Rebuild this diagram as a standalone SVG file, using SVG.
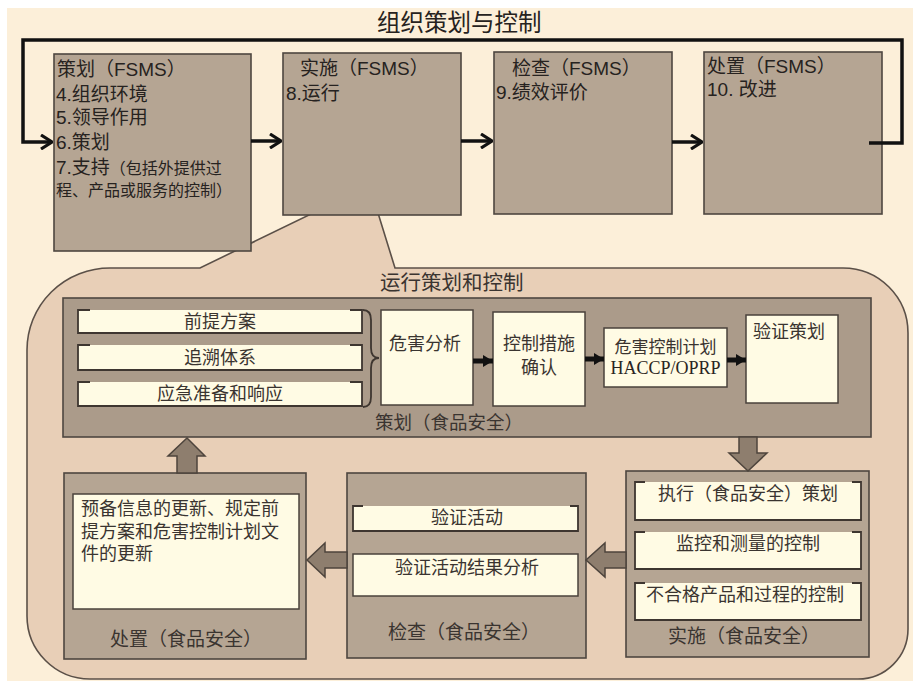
<svg xmlns="http://www.w3.org/2000/svg" width="913" height="681" viewBox="0 0 913 681">
<defs>
<style>
.t{font-family:"Liberation Sans","Noto Sans CJK SC",sans-serif;fill:#262220}
.c{font-family:"Noto Sans CJK SC","Liberation Sans",sans-serif;fill:#3a3430}
.cl{font-family:"Liberation Sans","Noto Sans CJK SC",sans-serif;fill:#3a3430}
.fs{fill:#b5a593;stroke:#4e4640;stroke-width:1.6}
.grp{fill:#ab9b8a;stroke:#4e4640;stroke-width:1.6}
.cr{fill:#fffbe4}
.crs{fill:#fffbe4;stroke:#4a423b;stroke-width:1.5}
.br{fill:none;stroke:#3e3630;stroke-width:1.8}
.blk{fill:#8e7e6e;stroke:#4d443c;stroke-width:1.5}
.ln{fill:none;stroke:#111;stroke-width:3.5}
.thk{fill:none;stroke:#111;stroke-width:5}
</style>
<marker id="chev" viewBox="0 0 13 16" refX="12" refY="8" markerWidth="13" markerHeight="16" markerUnits="userSpaceOnUse" orient="auto">
<path d="M1,1 L12,8 L1,15" fill="none" stroke="#111" stroke-width="3.2"/>
</marker>
<marker id="tri" viewBox="0 0 10 12" refX="10" refY="6" markerWidth="10" markerHeight="12" markerUnits="userSpaceOnUse" orient="auto">
<path d="M0,0 L10,6 L0,12 Z" fill="#111"/>
</marker>
</defs>

<rect x="0" y="0" width="913" height="681" fill="#ffffff"/>
<rect x="7" y="8" width="906" height="673" fill="#fcefd9"/>

<text class="t" x="377" y="31" font-size="23.5">组织策划与控制</text>

<!-- operation planning and control container -->
<g id="op-container">
<path d="M110,268 L200,268 L313,213 L378,213 L395,268 L843,268 A65,65 0 0 1 908,333 L908,629 A50,50 0 0 1 858,679 L90,679 A63,63 0 0 1 27,616 L27,350 A83,82 0 0 1 110,268 Z" fill="#e8cfb7" stroke="#5b5048" stroke-width="1.6"/>
<text class="c" x="380" y="290" font-size="20.5">运行策划和控制</text>
</g>

<g id="plan-fsms">
<rect class="fs" x="54" y="54" width="197" height="197"/>
<text class="t" x="57" y="76" font-size="19">策划（FSMS）</text>
<text class="t" x="56" y="101" font-size="19">4.组织环境</text>
<text class="t" x="56" y="124" font-size="19">5.领导作用</text>
<text class="t" x="56" y="149" font-size="19">6.策划</text>
<text class="t" x="56" y="174" font-size="19">7.支持<tspan font-size="16">（包括外提供过</tspan></text>
<text class="t" x="56" y="196" font-size="16">程、产品或服务的控制）</text>
</g>

<g id="do-fsms">
<rect class="fs" x="283" y="53" width="178" height="162"/>
<text class="t" x="300" y="75" font-size="19">实施（FSMS）</text>
<text class="t" x="286" y="100" font-size="19">8.运行</text>
</g>

<g id="check-fsms">
<rect class="fs" x="494" y="52" width="178" height="162"/>
<text class="t" x="512" y="75" font-size="19">检查（FSMS）</text>
<text class="t" x="496" y="99" font-size="19">9.绩效评价</text>
</g>

<g id="act-fsms">
<rect class="fs" x="704" y="52" width="178" height="162"/>
<text class="t" x="707" y="73" font-size="19">处置（FSMS）</text>
<text class="t" x="707" y="96" font-size="19">10. 改进</text>
</g>

<!-- food safety planning -->
<g id="plan-fs">
<rect class="grp" x="63" y="298" width="808" height="139"/>
<text class="c" x="375" y="429" font-size="18.5">策划（食品安全）</text>
</g>

<g id="prp">
<rect class="cr" x="78" y="310" width="284" height="23"/>
<path class="br" d="M90,310 L78,310 L78,333 L362,333 L362,310 L350,310"/>
<text class="c" x="220" y="328" font-size="18" text-anchor="middle">前提方案</text>
</g>
<g id="trace">
<rect class="cr" x="78" y="345" width="284" height="25"/>
<path class="br" d="M90,345 L78,345 L78,370 L362,370 L362,345 L350,345"/>
<text class="c" x="220" y="364" font-size="18" text-anchor="middle">追溯体系</text>
</g>
<g id="emergency">
<rect class="cr" x="78" y="382" width="284" height="24"/>
<path class="br" d="M90,382 L78,382 L78,406 L362,406 L362,382 L350,382"/>
<text class="c" x="220" y="400" font-size="18" text-anchor="middle">应急准备和响应</text>
</g>

<g id="hazard-analysis">
<rect class="crs" x="381" y="310" width="92" height="95"/>
<text class="c" x="389" y="350" font-size="18">危害分析</text>
</g>
<g id="control-measures">
<rect class="crs" x="493" y="312" width="92" height="94"/>
<text class="cl" x="539" y="350" font-size="18" text-anchor="middle">控制措施</text>
<text class="cl" x="539" y="374" font-size="18" text-anchor="middle">确认</text>
</g>
<g id="hazard-plan">
<rect class="crs" x="604" y="328" width="123" height="59"/>
<text class="cl" x="665.5" y="353" font-size="17" text-anchor="middle">危害控制计划</text>
<text x="665.5" y="374" font-size="18" text-anchor="middle" font-family="Liberation Serif, serif" fill="#2a2522">HACCP/OPRP</text>
</g>
<g id="verify-plan">
<rect class="crs" x="746" y="315" width="92" height="88"/>
<text class="c" x="753" y="338" font-size="18">验证策划</text>
</g>

<!-- food safety act -->
<g id="act-fs">
<rect class="fs" x="64" y="473" width="242" height="186"/>
<rect class="crs" x="73" y="494" width="226" height="115"/>
<text class="cl" x="81" y="515" font-size="18">预备信息的更新、规定前</text>
<text class="cl" x="81" y="538" font-size="18">提方案和危害控制计划文</text>
<text class="cl" x="81" y="560" font-size="18">件的更新</text>
<text class="c" x="186" y="646" font-size="19" text-anchor="middle">处置（食品安全）</text>
</g>

<!-- food safety check -->
<g id="check-fs">
<rect class="fs" x="347" y="473" width="239" height="185"/>
<rect class="cr" x="353" y="506" width="225" height="25"/>
<path class="br" d="M363,506 L353,506 L353,531 L578,531 L578,506 L570,506"/>
<text class="c" x="467" y="524" font-size="18" text-anchor="middle">验证活动</text>
<rect class="crs" x="353" y="554" width="225" height="42"/>
<text class="c" x="467" y="574" font-size="18" text-anchor="middle">验证活动结果分析</text>
<text class="c" x="464" y="639" font-size="19" text-anchor="middle">检查（食品安全）</text>
</g>

<!-- food safety do -->
<g id="do-fs">
<rect class="fs" x="626" y="471" width="243" height="186"/>
<rect class="cr" x="635" y="482" width="226" height="38"/>
<path class="br" d="M645,482 L635,482 L635,520 L861,520 L861,482 L852,482"/>
<text class="c" x="748" y="500" font-size="18" text-anchor="middle">执行（食品安全）策划</text>
<rect class="cr" x="635" y="532" width="226" height="37"/>
<path class="br" d="M645,532 L635,532 L635,569 L861,569 L861,532 L852,532"/>
<text class="c" x="748" y="550" font-size="18" text-anchor="middle">监控和测量的控制</text>
<rect class="cr" x="635" y="583" width="226" height="37"/>
<path class="br" d="M645,583 L635,583 L635,620 L861,620 L861,583 L852,583"/>
<text class="c" x="745" y="601" font-size="18" text-anchor="middle">不合格产品和过程的控制</text>
<text class="c" x="744" y="643" font-size="19" text-anchor="middle">实施（食品安全）</text>
</g>

<g id="connectors">
<path class="ln" d="M869,143 L902,143 L902,40 L23,40 L23,142 L52,142" marker-end="url(#chev)"/>
<path class="ln" d="M251,141 L281,141" marker-end="url(#chev)"/>
<path class="ln" d="M461,141 L492,141" marker-end="url(#chev)"/>
<path class="ln" d="M672,142 L702,142" marker-end="url(#chev)"/>
<path class="br" d="M363,310 Q371,310 371,320 L371,348 Q371,358 379,358 Q371,358 371,368 L371,397 Q371,407 363,407"/>
<path class="thk" d="M473,361 L493,361" marker-end="url(#tri)"/>
<path class="thk" d="M585,359 L604,359" marker-end="url(#tri)"/>
<path class="thk" d="M727,360 L746,360" marker-end="url(#tri)"/>
<polygon class="blk" points="739,437 757,437 757,453 767,453 748,471 729,453 739,453"/>
<polygon class="blk" points="177,473 197,473 197,456 205,456 187,438 168,456 177,456"/>
<polygon class="blk" points="626,552 605,552 605,543 586,560 605,577 605,568 626,568"/>
<polygon class="blk" points="347,552 325,552 325,543 307,560 325,577 325,568 347,568"/>
</g>
</svg>
